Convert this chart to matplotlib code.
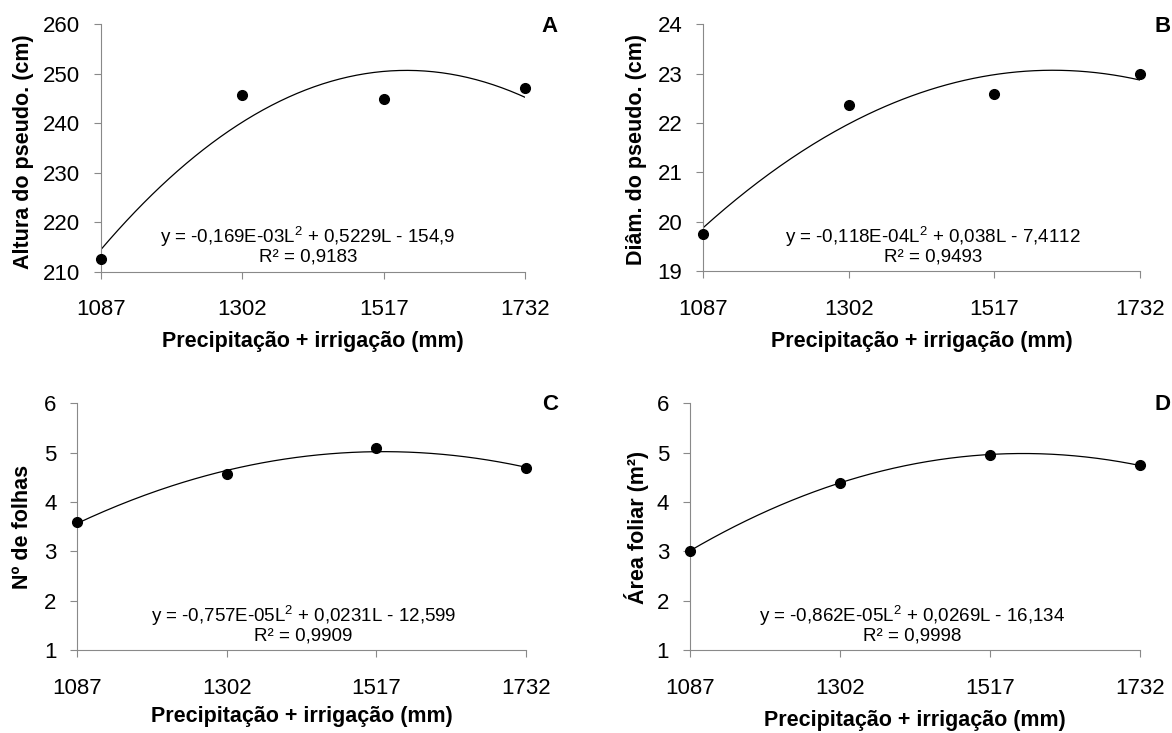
import matplotlib
matplotlib.use('Agg')
import matplotlib.pyplot as plt
import numpy as np

plt.rcParams['font.family'] = ['Liberation Sans', 'DejaVu Sans']
plt.rcParams['mathtext.fontset'] = 'custom'
plt.rcParams['mathtext.rm'] = 'Liberation Sans'
plt.rcParams['mathtext.it'] = 'Liberation Sans'

# Data
lamina = [1087, 1302, 1517, 1732]
altura = [212.6, 245.8, 244.9, 247.1]
diametro = [19.75, 22.37, 22.59, 23.0]
folhas = [3.59, 4.57, 5.09, 4.68]
area = [3.01, 4.39, 4.96, 4.74]

ylabels = ['Altura do pseudo. (cm)', 'Diâm. do pseudo. (cm)', 'Nº de folhas', 'Área foliar (m²)']
letters = ['A', 'B', 'C', 'D']
equations = ['y = -0,169E-03L$^2$ + 0,5229L - 154,9',
             'y = -0,118E-04L$^2$ + 0,038L - 7,4112',
             'y = -0,757E-05L$^2$ + 0,0231L - 12,599',
             'y = -0,862E-05L$^2$ + 0,0269L - 16,134']
r2 = ['R² = 0,9183', 'R² = 0,9493', 'R² = 0,9909', 'R² = 0,9998']
yticks = [[210, 220, 230, 240, 250, 260], [19, 20, 21, 22, 23, 24],
          [1, 2, 3, 4, 5, 6], [1, 2, 3, 4, 5, 6]]

series = [altura, diametro, folhas, area]

# axes positions (left, bottom, width, height) in figure fraction
positions = [(0.0862, 0.6296, 0.3618, 0.3372),
             (0.6001, 0.6303, 0.3724, 0.3366),
             (0.0659, 0.1132, 0.3829, 0.3366),
             (0.5887, 0.1132, 0.3840, 0.3366)]
ylab_pos = [(-0.183, 0.484), (-0.154, 0.494), (-0.121, 0.499), (-0.119, 0.497)]
xlab_y = [-0.285, -0.285, -0.270, -0.284]
eq_x = [0.488, 0.527, 0.504, 0.493]
eq_y = [(0.1396, 0.0587), (0.1396, 0.0587), (0.138, 0.057), (0.138, 0.057)]
letter_pos = [(550 / 1172, 1 - 26 / 733), (1163 / 1172, 1 - 26 / 733),
              (550 / 1172, 1 - 404 / 733), (1163 / 1172, 1 - 404 / 733)]

grey = '#898989'
fig = plt.figure(figsize=(11.72, 7.33), dpi=100)

for i in range(4):
    ax = fig.add_axes(positions[i])
    y = series[i]
    # quadratic regression line through the points
    coef = np.polyfit(lamina, y, 2)
    xs = np.linspace(lamina[0], lamina[-1], 200)
    ax.plot(xs, np.polyval(coef, xs), color='black', lw=0.9)
    ax.plot(lamina, y, 'o', color='black', ms=7, clip_on=False, zorder=3)

    ax.set_xlim(lamina[0], lamina[-1])
    ax.set_ylim(yticks[i][0], yticks[i][-1])
    ax.set_xticks(lamina)
    ax.set_yticks(yticks[i])
    ax.spines['top'].set_visible(False)
    ax.spines['right'].set_visible(False)
    ax.spines['left'].set_color(grey)
    ax.spines['bottom'].set_color(grey)
    ax.tick_params(axis='x', direction='out', length=5, color=grey, labelsize=16, pad=15)
    ax.tick_params(axis='y', direction='out', length=5, color=grey, labelsize=16, pad=10)

    ax.set_xlabel('Precipitação + irrigação (mm)', fontsize=15.5, fontweight='bold', va='center')
    ax.set_ylabel(ylabels[i], fontsize=15.5, fontweight='bold', va='center')
    ax.xaxis.set_label_coords(0.5, xlab_y[i])
    ax.yaxis.set_label_coords(ylab_pos[i][0], ylab_pos[i][1])

    ax.text(eq_x[i], eq_y[i][0], equations[i], transform=ax.transAxes, ha='center', va='center', fontsize=13.5)
    ax.text(eq_x[i], eq_y[i][1], r2[i], transform=ax.transAxes, ha='center', va='center', fontsize=13.5)

    fig.text(letter_pos[i][0], letter_pos[i][1], letters[i], ha='center', va='center',
             fontsize=16, fontweight='bold')

fig.savefig('out.png', dpi=100)
